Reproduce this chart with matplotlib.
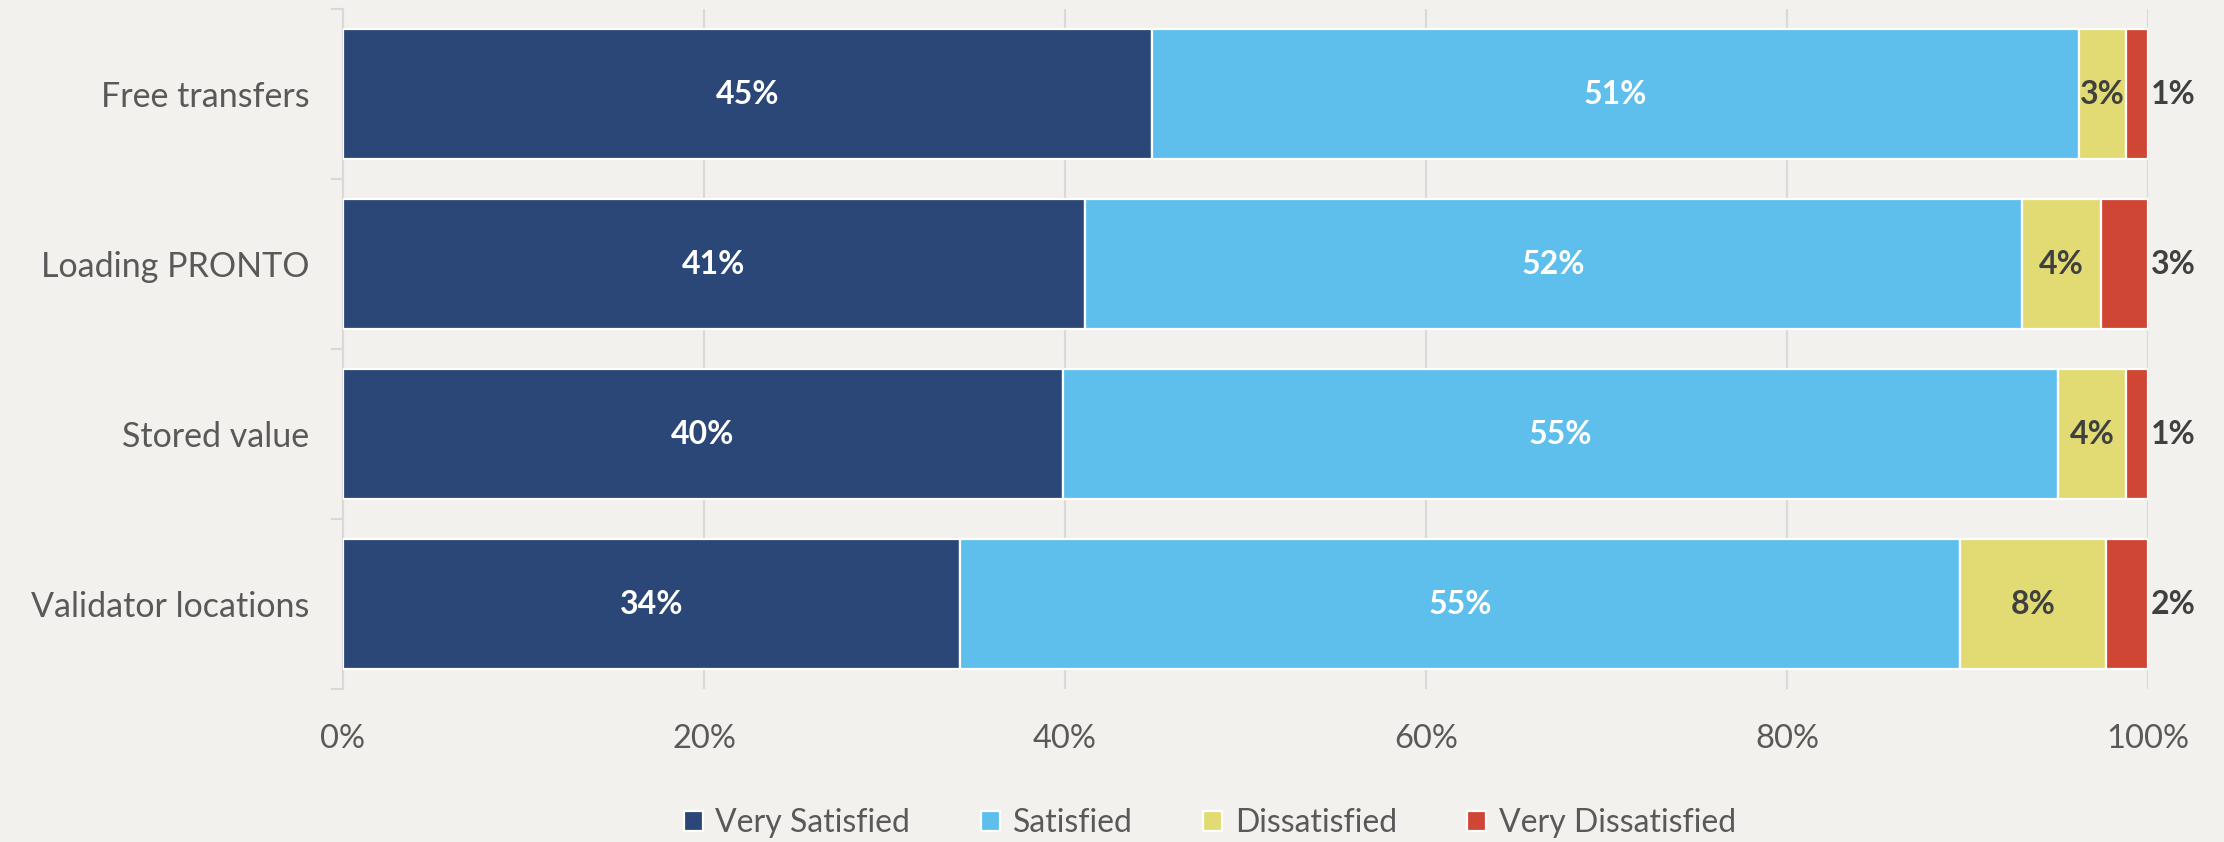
import matplotlib.pyplot as plt
import numpy as np

categories = ['Free transfers', 'Loading PRONTO', 'Stored value', 'Validator locations']
series = ['Very Satisfied', 'Satisfied', 'Dissatisfied', 'Very Dissatisfied']
very_satisfied = [44.8, 41.1, 39.9, 34.2]
satisfied = [51.4, 51.9, 55.1, 55.4]
dissatisfied = [2.6, 4.4, 3.8, 8.1]
very_dissatisfied = [1.2, 2.6, 1.2, 2.3]
xticks = [0, 20, 40, 60, 80, 100]

colors = ['#2B4778', '#5EBFEC', '#E2DB74', '#D04634']
label_colors = ['white', 'white', '#404040', '#404040']
bg = '#F2F1EE'
grid_c = '#D9D9D9'
text_c = '#595959'

plt.rcParams['font.family'] = ['Lato', 'DejaVu Sans']

fig = plt.figure(figsize=(22.24, 8.42), dpi=100, facecolor=bg)
ax = fig.add_axes([0.1542, 0.1817, 0.8116, 0.8076])
ax.set_facecolor(bg)

y = np.arange(len(categories))
data = [very_satisfied, satisfied, dissatisfied, very_dissatisfied]
left = np.zeros(len(categories))
for i, vals in enumerate(data):
    ax.barh(y, vals, left=left, height=0.765, color=colors[i],
            edgecolor='white', linewidth=1.6, label=series[i], zorder=3)
    for j, v in enumerate(vals):
        txt = f'{v:.0f}%'
        if i == 3:
            ax.annotate(txt, (100, y[j]), xytext=(2, 0), textcoords='offset points',
                        ha='left', va='center', fontsize=23, fontweight='bold',
                        color=label_colors[i], zorder=4)
        else:
            ax.text(left[j] + v / 2, y[j], txt, ha='center', va='center',
                    fontsize=23, fontweight='bold', color=label_colors[i], zorder=4)
    left = left + np.array(vals)

ax.set_xlim(0, 100)
ax.set_ylim(3.5, -0.5)
ax.set_xticks(xticks)
ax.set_xticklabels([f'{t}%' for t in xticks])
ax.set_yticks(y)
ax.set_yticklabels(categories)
ax.set_yticks(np.arange(-0.5, 4, 1), minor=True)
ax.tick_params(axis='x', length=0, pad=25, labelsize=23.5, labelcolor=text_c)
ax.tick_params(axis='y', which='major', length=0, pad=24, labelsize=24.5, labelcolor=text_c)
ax.tick_params(axis='y', which='minor', length=9, width=1.5, color=grid_c, direction='out')

ax.grid(axis='x', color=grid_c, linewidth=1.5, zorder=0)
ax.set_axisbelow(True)
for s in ['top', 'right', 'bottom']:
    ax.spines[s].set_visible(False)
ax.spines['left'].set_color(grid_c)
ax.spines['left'].set_linewidth(1.5)

fig.legend(loc='center', bbox_to_anchor=(0.544, 0.022), ncol=4, frameon=False,
           fontsize=23, labelcolor=text_c, handlelength=0.6, handleheight=0.6,
           handletextpad=0.4, columnspacing=2.2)

fig.savefig('out.png', dpi=100, facecolor=bg)
